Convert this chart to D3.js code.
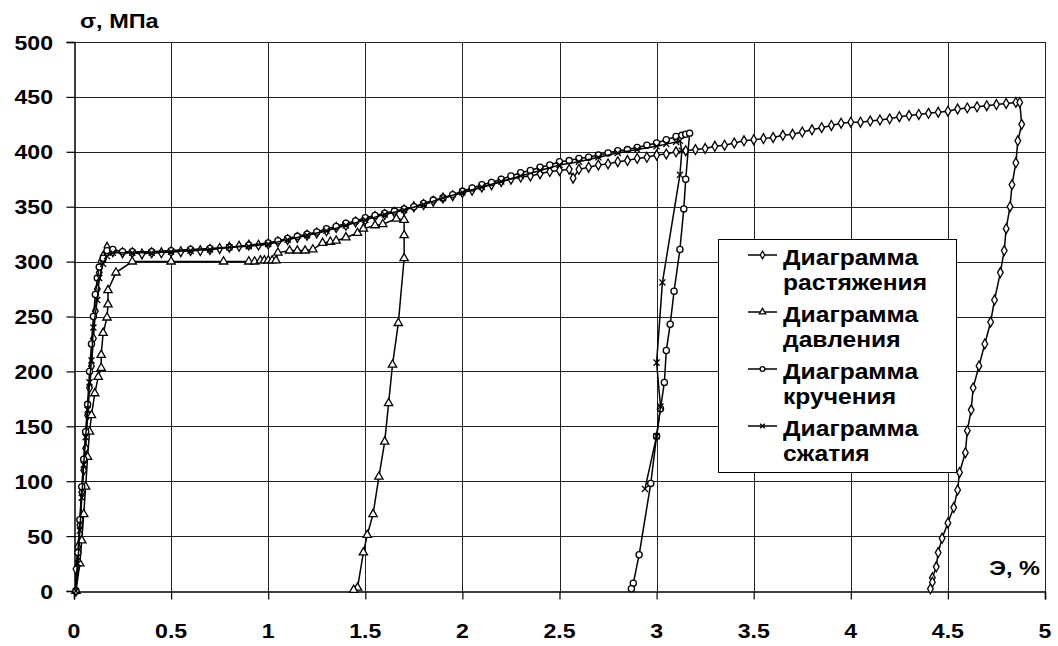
<!DOCTYPE html>
<html lang="ru">
<head>
<meta charset="UTF-8">
<title>Диаграммы нагружения</title>
<script src="https://d3js.org/d3.v7.min.js"></script>
<style>
    body { margin: 0; background: #fff; }
    svg { display: block; }
    text { font-family: Arial, "Liberation Sans", sans-serif; font-weight: bold; fill: #000; }
    .grid line { stroke: #222; stroke-width: 1px; shape-rendering: crispEdges; }
    .series path.line { fill: none; stroke: #000; stroke-width: 1.5px; }
    .series path.mark { fill: #fff; stroke: #000; stroke-width: 1.3px; }
</style>
</head>
<body>
<svg id="chart" width="1058" height="646"></svg>
<script>
// --- data: [strain %, stress MPa] ---
const xTicks = [0, 0.5, 1, 1.5, 2, 2.5, 3, 3.5, 4, 4.5, 5];
const yTicks = [0, 50, 100, 150, 200, 250, 300, 350, 400, 450, 500];

const tension = [
    [0.01, 0], [0.01, 20], [0.02, 40], [0.03, 60], [0.04, 90], [0.05, 110], [0.06, 130],
    [0.07, 160], [0.08, 185], [0.09, 205], [0.10, 230], [0.11, 255], [0.12, 275],
    [0.13, 290], [0.14, 300], [0.15, 305], [0.17, 313], [0.20, 309], [0.25, 308],
    [0.30, 308], [0.35, 307], [0.40, 308], [0.45, 308], [0.50, 309], [0.55, 309],
    [0.60, 310], [0.65, 310], [0.70, 311], [0.75, 312], [0.80, 313], [0.85, 314],
    [0.90, 315], [0.95, 315], [1.00, 316], [1.05, 318], [1.10, 320], [1.15, 322],
    [1.20, 324], [1.25, 326], [1.30, 328], [1.35, 331], [1.40, 333], [1.45, 336],
    [1.50, 338], [1.55, 341], [1.60, 343], [1.65, 345], [1.70, 347], [1.75, 350],
    [1.80, 352], [1.85, 355], [1.90, 358], [1.95, 360], [2.00, 363], [2.05, 365],
    [2.10, 368], [2.15, 370], [2.20, 373], [2.25, 375], [2.30, 377], [2.35, 378],
    [2.40, 380], [2.45, 382], [2.50, 383], [2.55, 384], [2.57, 376], [2.60, 384],
    [2.65, 386], [2.70, 388], [2.75, 389], [2.80, 391], [2.85, 392], [2.90, 394],
    [2.95, 395], [3.00, 397], [3.05, 398], [3.10, 400], [3.15, 401], [3.20, 402],
    [3.25, 403], [3.30, 405], [3.35, 406], [3.40, 408], [3.45, 410], [3.50, 411],
    [3.55, 412], [3.60, 413], [3.65, 415], [3.70, 416], [3.75, 418], [3.80, 420],
    [3.85, 422], [3.90, 424], [3.95, 426], [4.00, 427], [4.05, 427], [4.10, 428],
    [4.15, 429], [4.20, 430], [4.25, 432], [4.30, 433], [4.35, 434], [4.40, 435],
    [4.45, 436], [4.50, 437], [4.55, 439], [4.60, 440], [4.65, 441], [4.70, 442],
    [4.75, 443], [4.80, 444], [4.85, 445], [4.87, 445],
    [4.88, 425], [4.86, 410], [4.85, 390], [4.83, 370], [4.82, 350], [4.80, 330],
    [4.79, 310], [4.77, 290], [4.74, 265], [4.72, 245], [4.69, 225], [4.66, 205],
    [4.63, 185], [4.62, 165], [4.60, 146], [4.59, 126], [4.56, 108], [4.55, 92],
    [4.53, 76], [4.50, 62], [4.47, 48], [4.45, 35], [4.44, 22], [4.42, 12],
    [4.42, 8], [4.41, 2]
];

const pressure = [
    [0.01, 0], [0.03, 25], [0.04, 46], [0.05, 70], [0.06, 95], [0.07, 122], [0.08, 145],
    [0.09, 160], [0.107, 180], [0.125, 195], [0.14, 203], [0.14, 215], [0.15, 235],
    [0.17, 249], [0.175, 261], [0.175, 274], [0.216, 290], [0.30, 300], [0.50, 300],
    [0.77, 300], [0.90, 300], [0.93, 300], [0.96, 301], [0.98, 301], [1.00, 301],
    [1.02, 301], [1.04, 301], [1.05, 308], [1.11, 310], [1.15, 310], [1.19, 310],
    [1.23, 311], [1.28, 317], [1.32, 318], [1.35, 319], [1.40, 322], [1.46, 326],
    [1.49, 330], [1.55, 333], [1.59, 334], [1.66, 339], [1.70, 338],
    [1.70, 324], [1.70, 303], [1.67, 244], [1.64, 206], [1.62, 171], [1.60, 136],
    [1.57, 104], [1.54, 70], [1.51, 51], [1.49, 35], [1.46, 3], [1.44, 1]
];

const torsion = [
    [0.01, 0], [0.02, 35], [0.03, 65], [0.04, 95], [0.05, 120], [0.06, 145], [0.07, 170],
    [0.08, 200], [0.09, 225], [0.10, 250], [0.11, 270], [0.12, 285], [0.13, 295],
    [0.15, 303], [0.17, 310], [0.20, 311], [0.25, 309], [0.30, 309], [0.40, 309],
    [0.50, 310], [0.60, 311], [0.70, 312], [0.80, 313], [0.90, 315], [1.00, 317],
    [1.05, 319], [1.10, 321], [1.15, 323], [1.20, 325], [1.25, 327], [1.30, 330],
    [1.35, 332], [1.40, 335], [1.45, 337], [1.50, 340], [1.55, 342], [1.60, 344],
    [1.65, 346], [1.70, 348], [1.75, 350], [1.80, 353], [1.85, 356], [1.90, 358],
    [1.95, 361], [2.00, 364], [2.05, 367], [2.10, 370], [2.15, 372], [2.20, 375],
    [2.25, 378], [2.30, 381], [2.35, 383], [2.40, 386], [2.45, 388], [2.50, 391],
    [2.55, 392], [2.60, 394], [2.65, 395], [2.70, 397], [2.75, 399], [2.80, 401],
    [2.85, 402], [2.90, 404], [2.95, 406], [3.00, 408], [3.05, 411], [3.10, 414],
    [3.13, 415], [3.15, 416], [3.17, 417],
    [3.15, 375], [3.14, 348], [3.12, 311], [3.09, 273], [3.07, 243], [3.05, 219],
    [3.04, 190], [3.02, 166], [3.00, 141], [2.97, 98], [2.91, 33], [2.88, 7], [2.87, 2]
];

const compression = [
    [0.01, 0], [0.02, 25], [0.03, 55], [0.04, 85], [0.05, 115], [0.06, 140], [0.07, 165],
    [0.08, 190], [0.09, 210], [0.10, 240], [0.12, 265], [0.13, 285], [0.15, 298],
    [0.17, 305], [0.20, 308], [0.30, 308], [0.40, 308], [0.50, 309], [0.60, 310],
    [0.70, 311], [0.80, 313], [0.90, 314], [1.00, 316], [1.10, 320], [1.20, 324],
    [1.30, 328], [1.40, 333], [1.50, 338], [1.60, 343], [1.70, 347], [1.80, 352],
    [1.90, 358], [2.00, 363], [2.10, 368], [2.20, 373], [2.30, 378], [2.40, 383],
    [2.50, 388], [2.60, 391], [2.70, 395], [2.80, 399], [2.90, 402], [3.00, 405],
    [3.05, 407], [3.10, 409], [3.12, 410], [3.13, 401], [3.12, 379], [3.03, 281],
    [3.00, 208], [3.02, 168], [3.00, 141], [2.94, 93]
];

const seriesNames = ["Диаграмма растяжения", "Диаграмма давления", "Диаграмма кручения", "Диаграмма сжатия"];
const seriesData = [tension, pressure, torsion, compression];

// --- layout ---
const W = 1058, H = 646;
const margin = { top: 42, right: 13, bottom: 55, left: 74 };
const svg = d3.select("#chart");

const x = d3.scaleLinear().domain([0, 5]).range([margin.left, W - margin.right]);
const y = d3.scaleLinear().domain([0, 500]).range([H - margin.bottom, margin.top]);

// the reference text is drawn a bit wider than plain Arial, so stretch it
function stretchedText(parent, tx, ty, str, anchor, size, stretch) {
    return parent.append("text")
        .attr("transform", `translate(${tx},${ty}) scale(${stretch},1)`)
        .attr("text-anchor", anchor)
        .style("font-size", size + "px")
        .text(str);
}

// grid
const grid = svg.append("g").attr("class", "grid");
grid.selectAll(".gx").data(xTicks.slice(1)).join("line")
    .attr("x1", d => Math.round(x(d)) + 0.5).attr("x2", d => Math.round(x(d)) + 0.5)
    .attr("y1", y(500)).attr("y2", y(0));
grid.selectAll(".gy").data(yTicks.slice(1)).join("line")
    .attr("x1", x(0)).attr("x2", x(5))
    .attr("y1", d => Math.round(y(d)) + 0.5).attr("y2", d => Math.round(y(d)) + 0.5);

// axes
const xAxis = svg.append("g").attr("transform", `translate(0,${Math.round(y(0)) + 0.5})`)
    .call(d3.axisBottom(x).tickValues(xTicks).tickSize(8).tickFormat(""));
const yAxis = svg.append("g").attr("transform", `translate(${Math.round(x(0)) + 0.5},0)`)
    .call(d3.axisLeft(y).tickValues(yTicks).tickSize(8).tickFormat(""));
[xAxis, yAxis].forEach(a => {
    a.select(".domain").attr("stroke", "#000").attr("stroke-width", 1.5);
    a.selectAll(".tick line").attr("stroke", "#000").attr("stroke-width", 1.2);
});

xTicks.forEach(t => stretchedText(svg, x(t), 638, String(t), "middle", 21, 1.1));
yTicks.forEach(t => stretchedText(svg, 53, y(t) + 7.5, String(t), "end", 21, 1.1));

stretchedText(svg, 80, 28, "σ, МПа", "start", 21, 1.12);
stretchedText(svg, 1040, 575, "Э, %", "end", 21, 1.12);

// series
const line = d3.line().x(d => x(d[0])).y(d => y(d[1]));
const symbols = [d3.symbolDiamond, d3.symbolTriangle, d3.symbolCircle, d3.symbolTimes || d3.symbolX];
const symSizes = [28, 30, 30, 26];

seriesData.forEach((data, i) => {
    const g = svg.append("g").attr("class", "series");
    g.append("path").attr("class", "line").attr("d", line(data));
    g.selectAll("path.mark").data(data).join("path")
        .attr("class", "mark")
        .attr("transform", d => `translate(${x(d[0])},${y(d[1])})`)
        .attr("d", d3.symbol().type(symbols[i]).size(symSizes[i]));
});

// legend
const legend = svg.append("g");
legend.append("rect")
    .attr("x", 718.5).attr("y", 239.5).attr("width", 238).attr("height", 233)
    .attr("fill", "#fff").attr("stroke", "#000").attr("stroke-width", 1);

seriesNames.forEach((name, i) => {
    const base = 265 + i * 57;
    const words = name.split(" ");
    const ly = base - 10;
    const lg = legend.append("g").attr("class", "series");
    lg.append("path").attr("class", "line").attr("d", `M748,${ly}H777`);
    lg.append("path").attr("class", "mark")
        .attr("transform", `translate(762.5,${ly})`)
        .attr("d", d3.symbol().type(symbols[i]).size(symSizes[i] * 0.6));
    stretchedText(legend, 783, base, words[0], "start", 22, 1.12);
    stretchedText(legend, 783, base + 25, words[1], "start", 22, 1.12);
});
</script>
</body>
</html>
